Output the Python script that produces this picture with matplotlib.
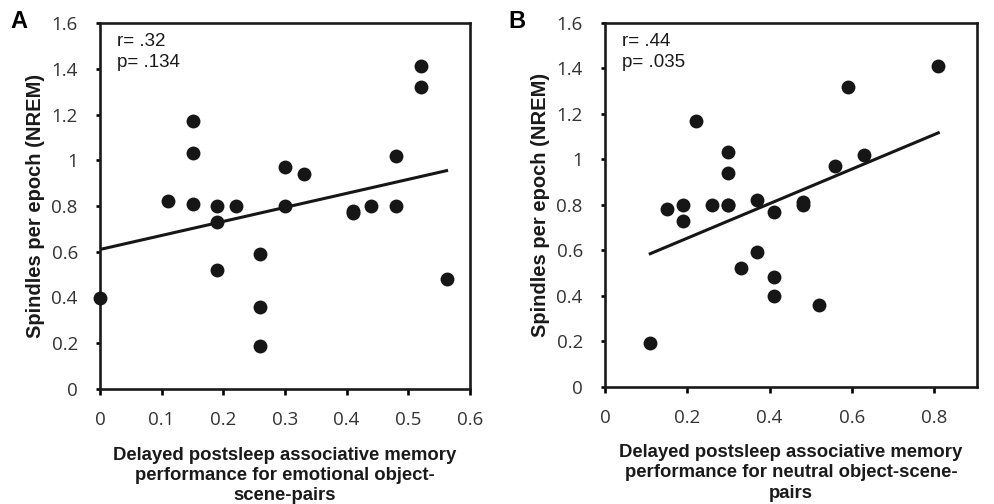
import numpy as np
import matplotlib
matplotlib.use("Agg")
import matplotlib.pyplot as plt
from matplotlib import font_manager

# data
emo_x = [0.00, 0.11, 0.15, 0.15, 0.15, 0.19, 0.19, 0.19, 0.22, 0.26, 0.26, 0.26,
         0.30, 0.30, 0.33, 0.41, 0.41, 0.44, 0.48, 0.48, 0.52, 0.52, 0.562]
emo_y = [0.40, 0.82, 1.17, 1.03, 0.81, 0.80, 0.73, 0.52, 0.80, 0.59, 0.36, 0.19,
         0.97, 0.80, 0.94, 0.78, 0.77, 0.80, 1.02, 0.80, 1.41, 1.32, 0.48]
emo_fit = (0.613, 0.61)   # slope, intercept
emo_stats = "r= .32\np= .134"

neu_x = [0.11, 0.15, 0.19, 0.19, 0.22, 0.26, 0.30, 0.30, 0.30, 0.33, 0.37, 0.37,
         0.41, 0.41, 0.41, 0.48, 0.48, 0.52, 0.56, 0.59, 0.63, 0.81, 0.30]
neu_y = [0.19, 0.78, 0.80, 0.73, 1.17, 0.80, 1.03, 0.94, 0.80, 0.52, 0.82, 0.59,
         0.77, 0.48, 0.40, 0.81, 0.80, 0.36, 0.97, 1.32, 1.02, 1.41, 0.80]
neu_fit = (0.76, 0.501)
neu_stats = "r= .44\np= .035"

yticks = [0, 0.2, 0.4, 0.6, 0.8, 1, 1.2, 1.4, 1.6]
emo_xticks = [0, 0.1, 0.2, 0.3, 0.4, 0.5, 0.6]
neu_xticks = [0, 0.2, 0.4, 0.6, 0.8]

ylabel = "Spindles per epoch (NREM)"
emo_xlabel = "Delayed postsleep associative memory\nperformance for emotional object-\nscene-pairs"
neu_xlabel = "Delayed postsleep associative memory\nperformance for neutral object-scene-\npairs"

installed = {f.name for f in font_manager.fontManager.ttflist}


def pick(*names):
    for n in names:
        if n in installed:
            return n
    return "DejaVu Sans"


tickfont = pick("Open Sans", "Lato")
armfont = pick("Liberation Sans", "Arial")

fig = plt.figure(figsize=(9.95, 5.04), dpi=100)
ax1 = fig.add_axes([100/995, 1-389/504, 370/995, 366/504])
ax2 = fig.add_axes([605/995, 1-386.5/504, 372/995, 363.5/504])


def panel(ax, x, y, fit, stats, xticks, xmax, xlabel):
    ax.scatter(x, y, s=100, color="#161616", zorder=3, clip_on=False, linewidths=0)
    xs = np.array([min(x), max(x)])
    ax.plot(xs, fit[0]*xs + fit[1], color="#161616", lw=2.2, zorder=2)
    ax.set_xlim(0, xmax)
    ax.set_ylim(0, 1.6)
    ax.set_xticks(xticks)
    ax.set_xticklabels([f"{v:g}" for v in xticks])
    ax.set_yticks(yticks)
    ax.set_yticklabels([f"{v:g}" for v in yticks])
    for s in ax.spines.values():
        s.set_linewidth(1.9)
        s.set_color("#1a1a1a")
    ax.tick_params(axis="y", direction="out", length=3, width=1.9, pad=13,
                   labelsize=13.5, labelcolor="#333333")
    ax.tick_params(axis="x", direction="out", length=4, width=1.9, pad=12,
                   labelsize=13.5, labelcolor="#333333")
    for lab in ax.get_xticklabels() + ax.get_yticklabels():
        lab.set_family(tickfont)
    ax.set_ylabel(ylabel, fontsize=14.5, fontweight="bold", family=armfont,
                  color="#1a1a1a", labelpad=4.5)
    ax.set_xlabel(xlabel, fontsize=13.3, fontweight="bold", family=armfont,
                  color="#1a1a1a", labelpad=12.5, linespacing=1.25)
    ax.text(0.046, 0.972, stats, transform=ax.transAxes, va="top", ha="left",
            fontsize=13.5, family=armfont, color="#1a1a1a", linespacing=1.3)


panel(ax1, emo_x, emo_y, emo_fit, emo_stats, emo_xticks, 0.6, emo_xlabel)
panel(ax2, neu_x, neu_y, neu_fit, neu_stats, neu_xticks, 0.904, neu_xlabel)

fig.text(10/995, 1-22/504, "A", fontsize=17, fontweight="bold", family=armfont, va="center")
fig.text(508/995, 1-22/504, "B", fontsize=17, fontweight="bold", family=armfont, va="center")

fig.savefig("out.png", dpi=100)
